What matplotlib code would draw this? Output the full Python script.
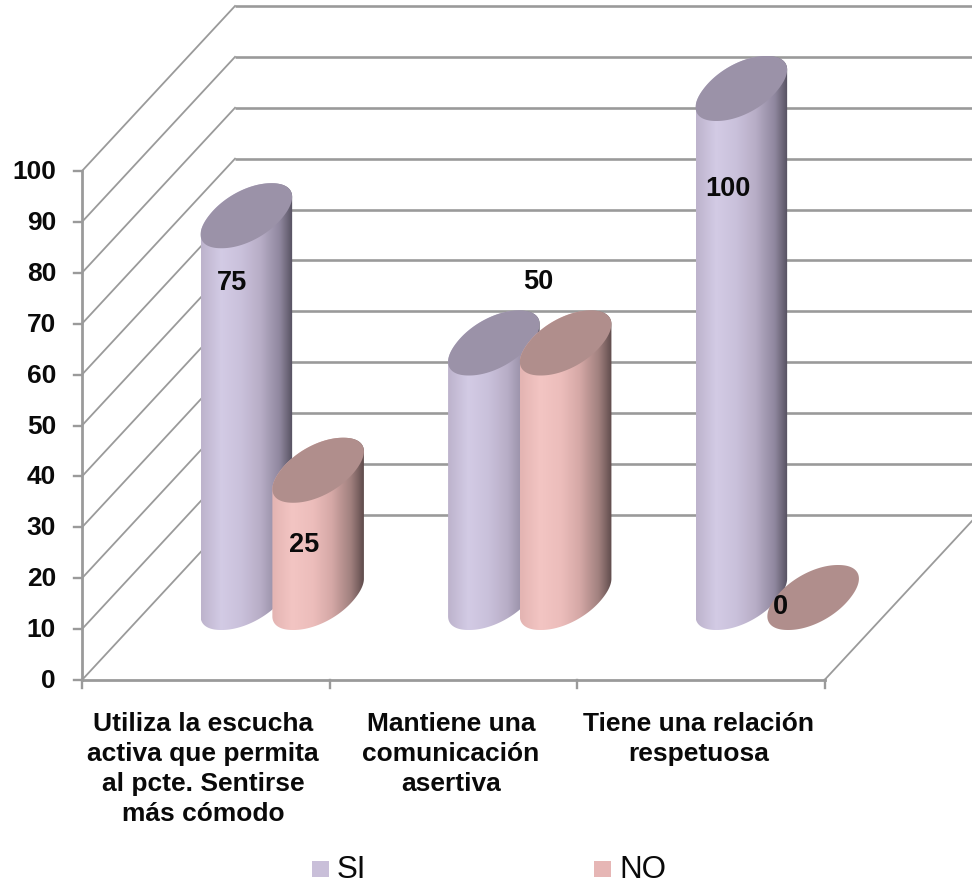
import numpy as np
import matplotlib
matplotlib.use('Agg')
import matplotlib.pyplot as plt
from matplotlib.colors import LinearSegmentedColormap
from matplotlib.patches import Polygon, Rectangle

categories = [
    'Utiliza la escucha\nactiva que permita\nal pcte. Sentirse\nmás cómodo',
    'Mantiene una\ncomunicación\nasertiva',
    'Tiene una relación\nrespetuosa',
]
si_values = [75, 50, 100]
no_values = [25, 50, 0]
y_ticks = list(range(0, 101, 10))

# chart geometry in pixels
X0, Y0 = 82, 680
CAT_W = 247.5
UNIT_H = 5.09
DEPTH = (153, -165)
GRID = '#9a9a9a'

si_shades = ['#bdb3cc', '#d3cbe5', '#c9c0da', '#b7adc6', '#8f879e', '#55505f']
no_shades = ['#e3b4b2', '#f3c5c3', '#ecbdbb', '#d5a8a6', '#a0807e', '#5f4b4b']
si_top = '#9b92a8'
no_top = '#b08e8c'

# nudges of the value labels from the centre of each bar top
si_label_offsets = [(-14, 67), None, (-13, 100)]
no_label_offsets = [(-14, 75), (-27, -61), (-33, 9)]


def project(cat, value, depth=0.0):
    x = X0 + CAT_W * cat + DEPTH[0] * depth
    y = Y0 - UNIT_H * value + DEPTH[1] * depth
    return x, y


def disc(cat, value, t):
    # slanted disc; the exponent squares it off a little
    cx, cy = project(cat, value, 0.5)
    c = np.sign(np.cos(t)) * np.abs(np.cos(t)) ** 0.95
    s = np.sign(np.sin(t)) * np.abs(np.sin(t)) ** 0.95
    return cx + 37.5 * c + 25 * s, cy - 32.5 * s


def draw_cylinder(ax, cat, value, shades, top_color, z):
    t = np.linspace(0, 2 * np.pi, 721)
    if value > 0:
        xs, _ = disc(cat, 0, t)
        left = int(np.argmin(xs))
        right = int(np.argmax(xs))
        # upper side of the top disc, lower side of the base disc
        upper = t[right:left + 1][::-1]
        lower = np.r_[t[left:], t[1:right + 1] + 2 * np.pi][::-1]
        tx, ty = disc(cat, value, upper)
        bx, by = disc(cat, 0, lower)
        outline = np.column_stack([np.r_[tx, bx], np.r_[ty, by]])
        shape = Polygon(outline, closed=True, facecolor='none', edgecolor='none', transform=ax.transData)
        ax.add_patch(shape)
        cmap = LinearSegmentedColormap.from_list('side', list(zip([0, 0.22, 0.45, 0.65, 0.86, 1], shades)))
        img = ax.imshow(np.linspace(0, 1, 256)[None, :], cmap=cmap, aspect='auto', zorder=z,
                        extent=(xs.min(), xs.max(), 700, 0), interpolation='bilinear')
        img.set_clip_path(shape)
    ex, ey = disc(cat, value, t)
    ax.add_patch(Polygon(np.column_stack([ex, ey]), closed=True, facecolor=top_color, edgecolor='none', zorder=z + 0.1))


fig = plt.figure(figsize=(9.72, 8.88), dpi=100)
ax = fig.add_axes([0, 0, 1, 1])
plt.rcParams['font.family'] = ['Liberation Sans', 'DejaVu Sans']

# back wall and side wall gridlines
for v in y_ticks:
    fx, fy = project(0, v)
    bx, by = project(0, v, 1)
    rx, ry = project(3, v, 1)
    ax.plot([fx, bx], [fy, by], color=GRID, lw=1.3, zorder=1)
    ax.plot([bx, rx], [by, ry], color=GRID, lw=1.9, zorder=1, solid_capstyle='butt')
    ax.plot([fx - 8, fx], [fy, fy], color=GRID, lw=1.7, zorder=2)
    ax.text(fx - 26, fy + 1, str(v), ha='right', va='center', fontsize=19, fontweight='bold', color='#0a0a0a')

# floor edges and front axes
ax.plot(*zip(project(3, 0), project(3, 0, 1)), color=GRID, lw=1.3, zorder=1)
ax.plot(*zip(project(0, 0), project(3, 0)), color=GRID, lw=2.0, zorder=2)
ax.plot(*zip(project(0, 0), project(0, 100)), color=GRID, lw=2.0, zorder=2)
for i in range(len(categories) + 1):
    tx, ty = project(i, 0)
    ax.plot([tx, tx], [ty, ty + 8], color=GRID, lw=1.7, zorder=2)

# cylinders, left to right
for i, label in enumerate(categories):
    draw_cylinder(ax, i + 0.355, si_values[i], si_shades, si_top, 3 + i)
    draw_cylinder(ax, i + 0.645, no_values[i], no_shades, no_top, 3.5 + i)

    for cat, value, offset in ((i + 0.355, si_values[i], si_label_offsets[i]),
                               (i + 0.645, no_values[i], no_label_offsets[i])):
        if offset is None:
            continue
        cx, cy = project(cat, value, 0.5)
        ax.text(cx + offset[0], cy + offset[1], str(value), ha='center', va='center',
                fontsize=19.5, fontweight='bold', color='#0a0a0a', zorder=10)

    lx, ly = project(i + 0.49, 0)
    ax.text(lx, 712, label, ha='center', va='top', ma='center', fontsize=19, fontweight='bold',
            linespacing=1.31, color='#0a0a0a')

# legend
for sx, tx, name, color in ((312, 337, 'SI', '#c9bfd9'), (594, 619, 'NO', '#e6b6b5')):
    ax.add_patch(Rectangle((sx, 861), 17, 16, facecolor=color, edgecolor='none'))
    ax.text(tx, 870, name, ha='left', va='center', fontsize=22.5, color='#0a0a0a')

ax.set_xlim(0, 972)
ax.set_ylim(888, 0)
ax.axis('off')

fig.savefig('out.png', dpi=100)
plt.close(fig)
